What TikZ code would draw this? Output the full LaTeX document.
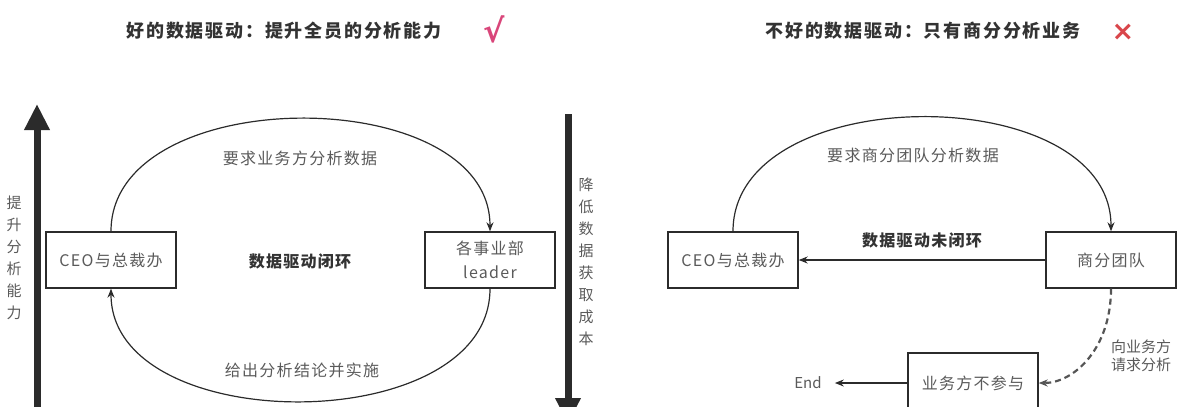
\documentclass[tikz,border=0pt]{standalone}
\usepackage{fontspec}
\newfontfamily\cjk{Noto Sans CJK SC}
\newfontfamily\cjksp[LetterSpace=8]{Noto Sans CJK SC}
\newfontfamily\cjkt[LetterSpace=10]{Noto Sans CJK SC}
\newfontfamily\symf{DejaVu Sans}
\usetikzlibrary{arrows.meta}
\definecolor{ink}{HTML}{2B2B2B}
\definecolor{txt}{HTML}{5A5A5A}
\definecolor{ttl}{HTML}{333333}
\definecolor{chk}{HTML}{D9467A}
\definecolor{crs}{HTML}{D9464B}
\tikzset{
 box/.style={draw=ink, line width=1.4pt, minimum width=130pt, minimum height=56pt, inner sep=0pt, font=\cjksp\fontsize{16}{24}\selectfont, text=txt, align=center},
 lbl/.style={font=\cjksp\fontsize{16}{19}\selectfont, text=txt, inner sep=1pt},
 blbl/.style={font=\cjksp\bfseries\fontsize{16}{19}\selectfont, text=ttl, inner sep=1pt},
 ttlstyle/.style={font=\cjkt\bfseries\fontsize{18}{21}\selectfont, text=ttl},
 flow/.style={draw=ink, line width=1.2pt, -{Stealth[length=9pt,width=7pt]}},
 big/.style={draw=ink, line width=7pt, -{Triangle[length=26pt,width=24pt]}},
 vlbl/.style={font=\cjk\fontsize{15}{22}\selectfont, text=txt, align=center, inner sep=0pt},
 small/.style={font=\cjk\fontsize{15}{18}\selectfont, text=txt, align=center, inner sep=1pt},
}
\begin{document}
\begin{tikzpicture}[x=1pt,y=-1pt]
\useasboundingbox (0,0) rectangle (1179,407);
\clip (0,0) rectangle (1179,407);
% titles
\node[ttlstyle] (t1) at (284,31) {好的数据驱动：提升全员的分析能力};
\node[font=\symf\bfseries\fontsize{32}{34}\selectfont, text=chk] (ck) at (494,29) {√};
\node[ttlstyle] (t2) at (923,31) {不好的数据驱动：只有商分分析业务};
\node[font=\symf\bfseries\fontsize{27}{29}\selectfont, text=crs] (cx) at (1123,32) {×};
% left side
\coordinate (ub) at (37,420);
\coordinate (ut) at (37,104);
\draw[big] (ub) -- (ut);
\node[vlbl] (vl) at (14,258) {提\\升\\分\\析\\能\\力};
\coordinate (dt) at (568,114);
\coordinate (db) at (568,424);
\draw[big] (dt) -- (db);
\node[vlbl] (vr) at (586,262) {降\\低\\数\\据\\获\\取\\成\\本};
\node[box] (ceo) at (111,260) {CEO与总裁办};
\node[box] (lead) at (490,260) {各事业部\\leader};
\node[blbl] (loop) at (300,261) {数据驱动闭环};
\draw[flow] (ceo.north) .. controls +(0,-150) and +(0,-150) .. (lead.north);
\draw[flow] (lead.south) .. controls +(0,150) and +(0,150) .. (ceo.south);
\node[lbl] (l1) at (300,158) {要求业务方分析数据};
\node[lbl] (l2) at (302,370) {给出分析结论并实施};
% right side
\node[box] (ceo2) at (733,260) {CEO与总裁办};
\node[box] (team) at (1111,260) {商分团队};
\draw[flow] (ceo2.north) .. controls +(0,-152) and +(0,-152) .. (team.north);
\node[lbl] (l3) at (913,155) {要求商分团队分析数据};
\draw[flow] (team.west) -- (ceo2.east);
\node[blbl] (l4) at (922,240) {数据驱动未闭环};
\node[box, minimum height=60pt] (biz) at (973,383) {业务方不参与};
\draw[flow, draw=ink!80, line width=2.2pt, dash pattern=on 6pt off 4pt] (team.south) .. controls +(0,60) and +(35,0) .. (biz.east);
\node[small] (l5) at (1141,356) {向业务方\\请求分析};
\node[small, inner xsep=13pt] (end) at (808,383) {End};
\draw[flow] (biz.west) -- (end.east);
\end{tikzpicture}
\end{document}
